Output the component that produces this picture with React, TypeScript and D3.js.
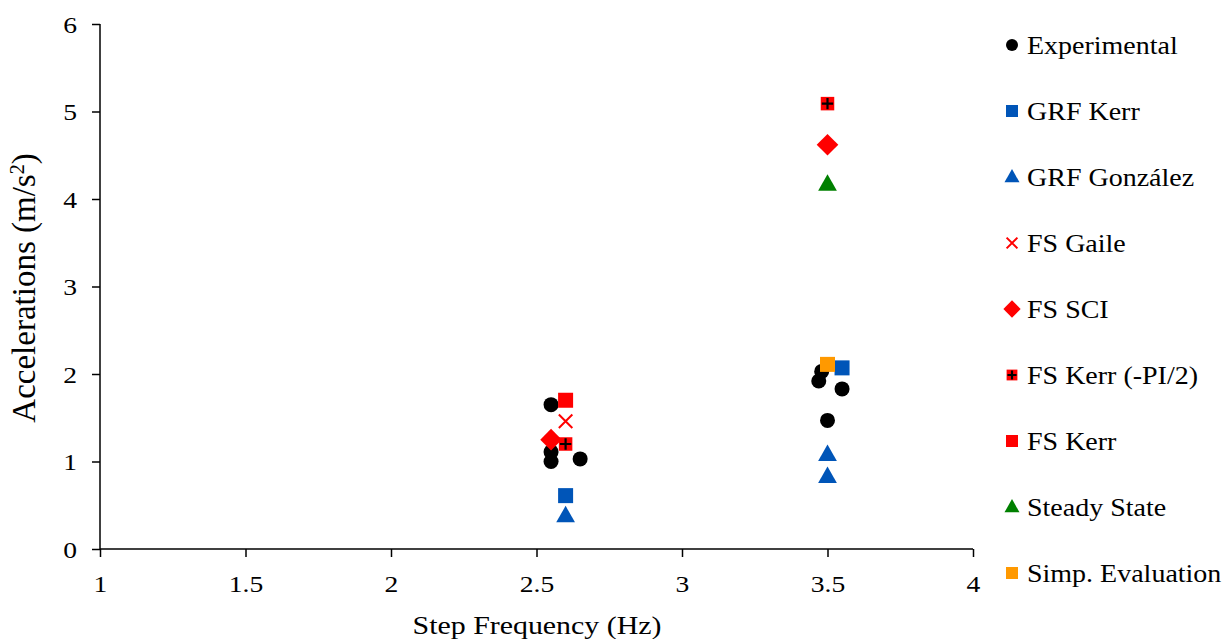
import React, { useEffect, useRef } from 'react';
import * as d3 from 'd3';

// series: [frequency, acceleration]
const experimental: [number, number][] = [
  [2.55, 1.65], [2.55, 1.11], [2.55, 1.0], [2.65, 1.03],
  [3.48, 2.03], [3.47, 1.92], [3.55, 1.83], [3.5, 1.47],
];
const grfKerr: [number, number][] = [[2.6, 0.61], [3.55, 2.07]];
const grfGonzalez: [number, number][] = [[2.6, 0.38], [3.5, 1.08], [3.5, 0.83]];
const fsGaile: [number, number][] = [[2.6, 1.46]];
const fsSci: [number, number][] = [[2.55, 1.25], [3.5, 4.62]];
const fsKerrPi2: [number, number][] = [[2.6, 1.2], [3.5, 5.09]];
const fsKerr: [number, number][] = [[2.6, 1.7]];
const steadyState: [number, number][] = [[3.5, 4.17]];
const simpEvaluation: [number, number][] = [[3.5, 2.11]];

const xTicks = [1, 1.5, 2, 2.5, 3, 3.5, 4];
const yTicks = [0, 1, 2, 3, 4, 5, 6];

const series = [
  { name: 'Experimental', data: experimental, shape: 'circle', color: '#000000' },
  { name: 'GRF Kerr', data: grfKerr, shape: 'square', color: '#0055b8' },
  { name: 'GRF González', data: grfGonzalez, shape: 'triangle', color: '#0055b8' },
  { name: 'FS Gaile', data: fsGaile, shape: 'x', color: '#ff0000' },
  { name: 'FS SCI', data: fsSci, shape: 'diamond', color: '#ff0000' },
  { name: 'FS Kerr (-PI/2)', data: fsKerrPi2, shape: 'plusSquare', color: '#ff0000' },
  { name: 'FS Kerr', data: fsKerr, shape: 'square', color: '#ff0000' },
  { name: 'Steady State', data: steadyState, shape: 'triangle', color: '#008000' },
  { name: 'Simp. Evaluation', data: simpEvaluation, shape: 'square', color: '#ff9900' },
];

const FONT = '"Liberation Serif", "Times New Roman", serif';

function drawMarker(g: any, shape: string, color: string, s: number) {
  // s = nominal size in px
  if (shape === 'circle') {
    g.append('circle').attr('r', s / 2).attr('fill', color);
  } else if (shape === 'square') {
    g.append('rect').attr('x', -s / 2).attr('y', -s / 2).attr('width', s).attr('height', s).attr('fill', color);
  } else if (shape === 'triangle') {
    const w = s * 1.25;
    const h = s * 1.1;
    g.append('path')
      .attr('d', `M0,${-h * 0.6}L${w / 2},${h * 0.4}L${-w / 2},${h * 0.4}Z`)
      .attr('fill', color);
  } else if (shape === 'diamond') {
    const r = s * 0.72;
    g.append('path').attr('d', `M0,${-r}L${r},0L0,${r}L${-r},0Z`).attr('fill', color);
  } else if (shape === 'x') {
    const r = s * 0.45;
    g.append('path')
      .attr('d', `M${-r},${-r}L${r},${r}M${r},${-r}L${-r},${r}`)
      .attr('stroke', color).attr('stroke-width', 2).attr('fill', 'none');
  } else if (shape === 'plusSquare') {
    const h = s * 0.9;
    g.append('rect').attr('x', -h / 2).attr('y', -h / 2).attr('width', h).attr('height', h).attr('fill', color);
    const r = h * 0.42;
    g.append('path')
      .attr('d', `M${-r},0L${r},0M0,${-r}L0,${r}`)
      .attr('stroke', '#000').attr('stroke-width', 2.2);
  }
}

export default function App() {
  const ref = useRef<SVGSVGElement>(null);

  useEffect(() => {
    const svg = d3.select(ref.current);
    svg.selectAll('*').remove();

    const x = d3.scaleLinear().domain([1, 4]).range([100, 973]);
    const y = d3.scaleLinear().domain([0, 6]).range([549, 24]);

    // y axis
    const yAxis = svg.append('g').attr('transform', `translate(${x(1)},0)`)
      .call(d3.axisLeft(y).tickValues(yTicks).tickSize(8).tickFormat(d3.format('d')));
    // x axis
    const xAxis = svg.append('g').attr('transform', `translate(0,${y(0)})`)
      .call(d3.axisBottom(x).tickValues(xTicks).tickSize(8).tickFormat((d: any) => String(d)));

    [yAxis, xAxis].forEach((a) => {
      a.select('.domain').attr('stroke', '#000').attr('stroke-width', 1.5);
      a.selectAll('.tick line').attr('stroke', '#000').attr('stroke-width', 1.5);
      a.selectAll('.tick text')
        .attr('font-family', FONT).attr('font-size', 23).attr('fill', '#000');
    });
    yAxis.select('.domain').attr('d', `M0,${y(6)}V${y(0)}`);
    xAxis.select('.domain').attr('d', `M${x(1)},0H${x(4)}`);
    // image is a bit wider than tall: stretch tick labels horizontally
    yAxis.selectAll('.tick text')
      .attr('x', null).attr('dy', null)
      .attr('transform', 'translate(-23,8) scale(1.2,1)');
    xAxis.selectAll('.tick text')
      .attr('y', null).attr('dy', null)
      .attr('transform', 'translate(0,43) scale(1.2,1)');

    // axis titles
    svg.append('text')
      .attr('transform', 'translate(537,634) scale(1.15,1)')
      .attr('text-anchor', 'middle')
      .attr('font-family', FONT).attr('font-size', 26)
      .text('Step Frequency (Hz)');

    const yl = svg.append('text')
      .attr('transform', `translate(35,288) rotate(-90)`)
      .attr('text-anchor', 'middle')
      .attr('font-family', FONT).attr('font-size', 33);
    yl.append('tspan').text('Accelerations (m/s');
    yl.append('tspan').attr('baseline-shift', 'super').attr('font-size', 20).text('2');
    yl.append('tspan').text(')');

    // points
    series.forEach((s) => {
      s.data.forEach((d) => {
        const g = svg.append('g').attr('transform', `translate(${x(d[0])},${y(d[1])})`);
        drawMarker(g, s.shape, s.color, 15);
      });
    });

    // legend
    const ly = d3.scaleLinear().domain([0, series.length - 1]).range([45, 573]);
    series.forEach((s, i) => {
      const g = svg.append('g').attr('transform', `translate(1012,${ly(i)})`);
      drawMarker(g.append('g'), s.shape, s.color, 12);
      g.append('text')
        .attr('transform', 'translate(15,8.5) scale(1.12,1)')
        .attr('font-family', FONT).attr('font-size', 25)
        .text(s.name);
    });
  }, []);

  return (
    <svg
      ref={ref}
      width={1230}
      height={639}
      style={{ position: 'absolute', left: 0, top: 0, background: '#fff' }}
    />
  );
}
